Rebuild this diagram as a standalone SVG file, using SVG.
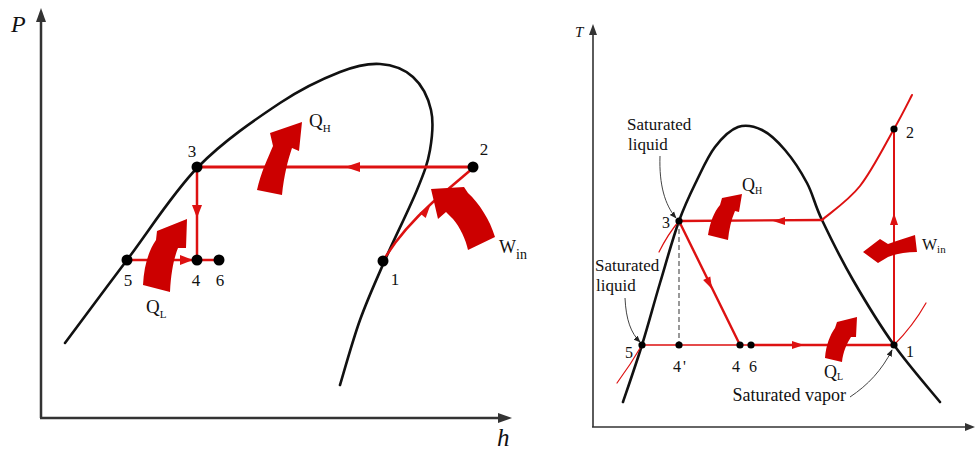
<svg xmlns="http://www.w3.org/2000/svg" width="975" height="450" viewBox="0 0 975 450">
<defs>
<style>
.t{font-family:"Liberation Serif","Times New Roman",serif;fill:#111}
.it{font-style:italic}
.dome{fill:none;stroke:#111;stroke-width:2.6;stroke-linecap:round}
.ax{fill:none;stroke:#333}
.red{fill:none;stroke:#dd1111;stroke-linecap:round}
.rf{fill:#dd1111}
.big{fill:#cc0000}
.dot{fill:#000}
.ann{fill:none;stroke:#444;stroke-width:1}
</style>
<marker id="ah" viewBox="0 0 10 10" refX="9" refY="5" markerWidth="7" markerHeight="7" orient="auto" markerUnits="userSpaceOnUse">
<path d="M0,1 L10,5 L0,9 Z" fill="#222"/>
</marker>
</defs>
<rect width="975" height="450" fill="#fff"/>

<!-- Left P-h diagram -->
<g id="ph-axes">
<line class="ax" x1="41" y1="20" x2="41" y2="418" stroke-width="2.5"/>
<line class="ax" x1="40" y1="418" x2="499" y2="418" stroke-width="2.5"/>
<polygon points="41,8 36,22 46,22" fill="#333"/>
<polygon points="512,418 498,413 498,423" fill="#333"/>
<text class="t it" x="11" y="32" font-size="24">P</text>
<text class="t it" x="497" y="446" font-size="25">h</text>
</g>
<g id="ph-dome">
<path class="dome" d="M65,343 C75.3,329.2 104.8,289.3 127,260 C149.2,230.7 172.5,193.2 198,167 C223.5,140.8 256.3,118.8 280,103 C303.7,87.2 323.3,78.5 340,72 C356.7,65.5 367.8,63.2 380,64 C392.2,64.8 404.5,69.3 413,77 C421.5,84.7 428.2,97.8 431,110 C433.8,122.2 432.3,136.7 430,150 C427.7,163.3 424.5,171.7 417,190 C409.5,208.3 394.5,238.3 385,260 C375.5,281.7 367.5,299.2 360,320 C352.5,340.8 343.3,374.2 340,385"/>
</g>
<g id="ph-connectors">
<line class="red" x1="197" y1="167" x2="473" y2="167" stroke-width="3"/>
<polygon class="rf" points="345,167 360,162 360,172"/>
<line class="red" x1="197" y1="167" x2="197" y2="260" stroke-width="2.5"/>
<polygon class="rf" points="197,218 192,205 202,205"/>
<line class="red" x1="127" y1="260" x2="219" y2="260" stroke-width="2.5"/>
<polygon class="rf" points="193,260 180,255 180,265"/>
<path class="red" d="M383,261 Q400,232 433,202 L473,168" stroke-width="2.5"/>
<polygon class="rf" points="430,206 425.7,217.9 419.5,212.9"/>
</g>
<g id="ph-heat-arrows">
<path class="big" d="M257,190 C261,172 268,158 273,146 L270,133 L302,122 L299,151 L292,148 C288,160 284,175 282,195 Z"/>
<path class="big" d="M143,285 C144,265 149,250 156,240 L157,231 L187,219 L186,248 L178,248 C174,258 171,272 170,292 Z"/>
<path class="big" d="M431,189 L464,187 L468,193 C479,203 490,220 495,237 L468,250 C466,240 460,227 453,219 L446,212 L438,219 Z"/>
</g>
<g id="ph-points">
<circle class="dot" cx="197" cy="167" r="5.5"/>
<circle class="dot" cx="473" cy="167" r="5.5"/>
<circle class="dot" cx="383" cy="261" r="5.5"/>
<circle class="dot" cx="127" cy="260" r="5.5"/>
<circle class="dot" cx="197" cy="260" r="5.5"/>
<circle class="dot" cx="219" cy="260" r="5.5"/>
</g>
<g id="ph-labels" font-size="17">
<text class="t" x="192" y="157" text-anchor="middle">3</text>
<text class="t" x="484" y="155" text-anchor="middle">2</text>
<text class="t" x="395" y="285" text-anchor="middle">1</text>
<text class="t" x="128" y="286" text-anchor="middle">5</text>
<text class="t" x="196" y="286" text-anchor="middle">4</text>
<text class="t" x="220" y="286" text-anchor="middle">6</text>
<text class="t" x="309" y="127" font-size="19">Q<tspan font-size="11" dy="5">H</tspan></text>
<text class="t" x="146" y="313" font-size="19">Q<tspan font-size="11" dy="5">L</tspan></text>
<text class="t" x="499" y="253" font-size="18">W<tspan font-size="14" dy="6">in</tspan></text>
</g>

<!-- Right T-s diagram -->
<g id="ts-axes">
<line class="ax" x1="593" y1="33" x2="593" y2="427" stroke-width="1.6"/>
<line class="ax" x1="592" y1="427" x2="967" y2="427" stroke-width="1.6"/>
<polygon points="593,24 589,35 597,35" fill="#333"/>
<polygon points="975,427 965,423 965,431" fill="#333"/>
<text class="t it" x="575" y="37" font-size="15">T</text>
</g>
<g id="ts-dome">
<path class="dome" d="M623,402 C626.2,392.5 635.8,364.8 642,345 C648.2,325.2 653.8,303.7 660,283 C666.2,262.3 672.8,238.2 679,221 C685.2,203.8 691,192.3 697,180 C703,167.7 708.2,155.8 715,147 C721.8,138.2 730.2,129.8 738,127 C745.8,124.2 754.2,126.2 762,130 C769.8,133.8 777.5,141.2 785,150 C792.5,158.8 800.8,171.3 807,183 C813.2,194.7 814.3,203.8 822,220 C829.7,236.2 841,259.2 853,280 C865,300.8 879.5,324.7 894,345 C908.5,365.3 932.3,392.5 940,402"/>
</g>
<g id="ts-connectors">
<line x1="679" y1="221" x2="679" y2="345" stroke="#555" stroke-width="1.2" stroke-dasharray="5,3"/>
<line class="red" x1="679" y1="221" x2="822" y2="220" stroke-width="2.4"/>
<polygon class="rf" points="773,221 785,217 785,225"/>
<path class="red" d="M822,220 C828.3,214.3 848,201.2 860,186 C872,170.8 885.3,144.2 894,129 C902.7,113.8 909,100.7 912,95" stroke-width="2"/>
<line class="red" x1="894" y1="345" x2="894" y2="129" stroke-width="2"/>
<polygon class="rf" points="894,213 890,225 898,225"/>
<line class="red" x1="679" y1="221" x2="740" y2="345" stroke-width="2.4"/>
<polygon class="rf" points="712,289 710.3,276.4 703.1,280"/>
<line class="red" x1="642" y1="345" x2="751" y2="345" stroke-width="1.5"/>
<line class="red" x1="751" y1="345" x2="894" y2="345" stroke-width="2.4"/>
<polygon class="rf" points="804,345 792,341 792,349"/>
<path class="red" d="M679,221 Q668,234 659,252" stroke-width="1.2"/>
<path class="red" d="M642,345 Q631,364 617,383" stroke-width="1.2"/>
<path class="red" d="M894,345 Q913,326 926,303" stroke-width="1.2"/>
<path class="ann" d="M660,156 C659,185 665,205 676,218" marker-end="url(#ah)"/>
<path class="ann" d="M625,298 C626,320 631,333 640,342" marker-end="url(#ah)"/>
<path class="ann" d="M850,397 C868,385 882,370 892,350" marker-end="url(#ah)"/>
</g>
<g id="ts-heat-arrows">
<path class="big" d="M708,235 C710,222 714,212 720,205 L722,198 L742,194 L739,212 L735,211 C731,220 729,230 728,240 Z"/>
<path class="big" d="M825,358 C826,345 830,335 835,328 L837,322 L857,317 L856,337 L851,337 C847,343 843,352 842,362 Z"/>
<path class="big" d="M863,252 L880,239 L888,244 C896,241 906,238 915,235 L917,252 C906,252 896,254 888,257 L878,263 Z"/>
</g>
<g id="ts-points">
<circle class="dot" cx="679" cy="221" r="3.6"/>
<circle class="dot" cx="642" cy="345" r="3.6"/>
<circle class="dot" cx="679" cy="345" r="3.6"/>
<circle class="dot" cx="740" cy="345" r="3.6"/>
<circle class="dot" cx="751" cy="345" r="3.6"/>
<circle class="dot" cx="894" cy="345" r="3.6"/>
<circle class="dot" cx="894" cy="129" r="3.6"/>
</g>
<g id="ts-labels" font-size="16">
<text class="t" x="666" y="228" text-anchor="middle">3</text>
<text class="t" x="629" y="358" text-anchor="middle">5</text>
<text class="t" x="673" y="372">4<tspan dx="2">'</tspan></text>
<text class="t" x="736" y="372" text-anchor="middle">4</text>
<text class="t" x="753" y="372" text-anchor="middle">6</text>
<text class="t" x="910" y="357" text-anchor="middle">1</text>
<text class="t" x="910" y="138" text-anchor="middle">2</text>
<text class="t" x="742" y="191" font-size="18">Q<tspan font-size="10" dy="3">H</tspan></text>
<text class="t" x="824" y="378" font-size="18">Q<tspan font-size="10" dy="2">L</tspan></text>
<text class="t" x="922" y="250" font-size="16">W<tspan font-size="11" dy="3">in</tspan></text>
<text class="t" x="627" y="130" font-size="17">Saturated</text>
<text class="t" x="628" y="150" font-size="17">liquid</text>
<text class="t" x="595" y="271" font-size="17">Saturated</text>
<text class="t" x="596" y="291" font-size="17">liquid</text>
<text class="t" x="846" y="401" font-size="18" text-anchor="end">Saturated vapor</text>
</g>
</svg>
